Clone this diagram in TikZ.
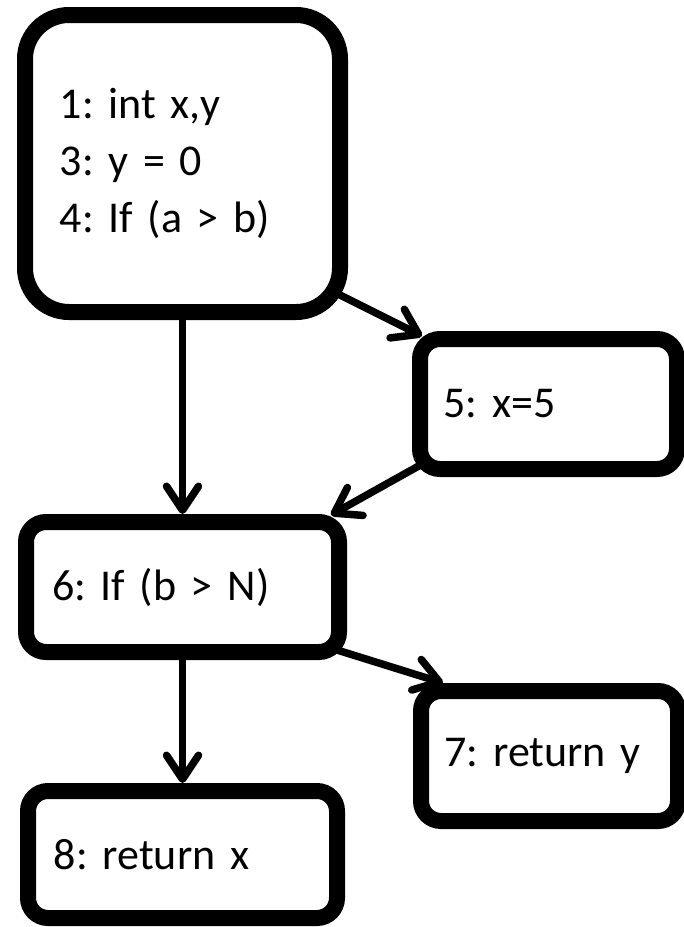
\documentclass[tikz,border=0pt]{standalone}
\usepackage{fontspec}
\setmainfont{Carlito}
\usetikzlibrary{arrows.meta, positioning}

\begin{document}
\begin{tikzpicture}[
  blk/.style={draw, line width=8pt, rounded corners=10pt, fill=white, align=left, inner ysep=0pt, font=\fontsize{22}{28.5}\selectfont\frenchspacing},
  entry/.style={blk, rounded corners=22pt, text width=122.5pt, inner xsep=17.5pt, minimum height=148.5pt},
  wide/.style={blk, text width=130.5pt, inner xsep=13pt, minimum height=65pt},
  side/.style={blk, text width=105pt, inner xsep=11.75pt, minimum height=65pt},
  arrow/.style={-{Straight Barb[length=12pt, width=16pt, round]}, line width=3.75pt}
  ]

\useasboundingbox (0,0) rectangle (342pt,-463.5pt);

% Nodes
\node[entry] (n1) at (91.25pt,-81.75pt) {1: int x,y\\3: y = 0\\4: If (a > b)};
\node[wide, below=97pt of n1] (n6) {6: If (b > N)};
\node[wide, below=61.5pt of n6, text width=128.5pt, minimum height=63.5pt] (n8) {8: return x};
\node[side, below right=5.5pt and 32pt of n1] (n5) {5: x=5};
\node[side, below right=11.5pt and 33pt of n6] (n7) {7: return~y};

% Arrows
\draw[arrow] (n1) -- (n6);
\draw[arrow] ([shift={(-9pt,15pt)}]n1.south east) -- ([shift={(5pt,-2.5pt)}]n5.north west);
\draw[arrow] ([shift={(6pt,7pt)}]n5.south west) -- ([shift={(-8pt,-0.5pt)}]n6.north east);
\draw[arrow] ([shift={(-5pt,5pt)}]n6.south east) -- ([xshift=15pt]n7.north west);
\draw[arrow] (n6) -- (n8);

\end{tikzpicture}
\end{document}
